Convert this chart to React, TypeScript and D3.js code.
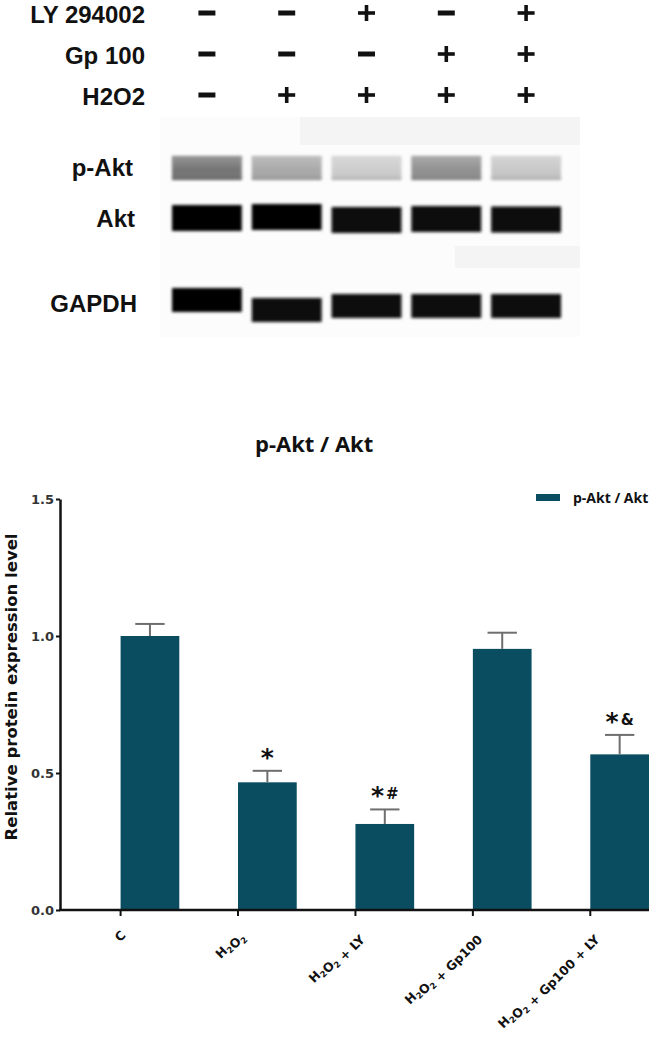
import React, { useEffect, useRef } from "react";
import * as d3 from "d3";

// treatment matrix above the blot
const treatmentNames = ["LY 294002", "Gp 100", "H2O2"];
const lyAdded = [false, false, true, false, true];
const gpAdded = [false, false, false, true, true];
const h2o2Added = [false, true, true, true, true];

// blot rows
const blotNames = ["p-Akt", "Akt", "GAPDH"];
const pAktGray = [0.45, 0.66, 0.8, 0.56, 0.78];
const aktGray = [0.02, 0.02, 0.03, 0.03, 0.03];
const gapdhGray = [0.02, 0.03, 0.03, 0.03, 0.03];

// bar chart
const groups = ["C", "H2O2", "H2O2 + LY", "H2O2 + Gp100", "H2O2 + Gp100 + LY"];
const means = [1.0, 0.466, 0.314, 0.953, 0.568];
const sems = [0.044, 0.042, 0.053, 0.059, 0.071];
const signif = ["", "*", "*#", "", "*&"];
const yTicks = [0, 0.5, 1.0, 1.5];

const BAR = "#0a4d60";
const SANS = "'DejaVu Sans', sans-serif";
const ARIAL = "'Liberation Sans', Arial, sans-serif";
const OPEN = "'Open Sans', sans-serif";

export default function App() {
  const ref = useRef<SVGSVGElement>(null);

  useEffect(() => {
    const svg = d3.select(ref.current);
    svg.selectAll("*").remove();

    const defs = svg.append("defs");
    defs.append("filter").attr("id", "blur")
      .attr("x", "-10%").attr("y", "-40%").attr("width", "120%").attr("height", "180%")
      .append("feGaussianBlur").attr("stdDeviation", 1.6);
    const grad = defs.append("linearGradient").attr("id", "pakt").attr("x1", 0).attr("x2", 0).attr("y1", 0).attr("y2", 1);
    grad.append("stop").attr("offset", "0%").attr("stop-color", "#fff").attr("stop-opacity", 0.25);
    grad.append("stop").attr("offset", "60%").attr("stop-color", "#fff").attr("stop-opacity", 0);
    grad.append("stop").attr("offset", "100%").attr("stop-color", "#000").attr("stop-opacity", 0.15);

    // ---------- treatment table ----------
    const lane = d3.scaleBand<number>().domain(d3.range(5)).range([171, 562]).paddingInner(0.1);
    const laneMid = (i: number) => (lane(i) as number) + lane.bandwidth() / 2;
    const rowY = d3.scalePoint<string>().domain(treatmentNames).range([13, 95]);

    const top = svg.append("g");
    top.selectAll("text.tr").data(treatmentNames).enter().append("text")
      .attr("x", 145).attr("y", d => (rowY(d) as number) + 10)
      .attr("text-anchor", "end").attr("font-family", ARIAL).attr("font-weight", "bold")
      .attr("font-size", 24).attr("fill", "#111").text(d => d);

    [lyAdded, gpAdded, h2o2Added].forEach((row, r) => {
      const cy = rowY(treatmentNames[r]) as number;
      row.forEach((on, i) => {
        const cx = laneMid(i);
        top.append("line").attr("x1", cx - 8.5).attr("x2", cx + 8.5).attr("y1", cy).attr("y2", cy)
          .attr("stroke", "#111").attr("stroke-width", on ? 3.6 : 5);
        if (on) top.append("line").attr("x1", cx).attr("x2", cx).attr("y1", cy - 8).attr("y2", cy + 8)
          .attr("stroke", "#111").attr("stroke-width", 3.6);
      });
    });

    // ---------- blot ----------
    const blot = svg.append("g");
    blot.append("rect").attr("x", 160).attr("y", 117).attr("width", 420).attr("height", 220).attr("fill", "#fcfcfc");
    blot.append("rect").attr("x", 300).attr("y", 117).attr("width", 280).attr("height", 28).attr("fill", "#f4f4f4");
    blot.append("rect").attr("x", 455).attr("y", 246).attr("width", 125).attr("height", 22).attr("fill", "#f4f4f4");

    const blotY = [168, 219, 304];
    const blotH = [24, 26, 24];
    const shift = [[0, 0, 0, 0, 0], [-1, -2, 1, 0, 0.5], [-4, 6, 2, 2, 2]];
    const grays = [pAktGray, aktGray, gapdhGray];

    blotNames.forEach((name, r) => {
      blot.append("text").attr("x", [133, 135, 137][r]).attr("y", blotY[r] + 8)
        .attr("text-anchor", "end").attr("font-family", ARIAL).attr("font-weight", "bold")
        .attr("font-size", 24).attr("fill", "#111").text(name);
      grays[r].forEach((g, i) => {
        const v = Math.round(g * 255);
        const bx = (lane(i) as number) + 1;
        const by = blotY[r] + shift[r][i] - blotH[r] / 2;
        blot.append("rect")
          .attr("x", bx).attr("width", lane.bandwidth() - 2)
          .attr("y", by).attr("height", blotH[r])
          .attr("fill", `rgb(${v},${v},${v})`).attr("filter", "url(#blur)");
        if (r === 0) blot.append("rect")
          .attr("x", bx).attr("width", lane.bandwidth() - 2)
          .attr("y", by).attr("height", blotH[r])
          .attr("fill", "url(#pakt)").attr("filter", "url(#blur)");
      });
    });

    // ---------- bar chart ----------
    const x = d3.scaleBand<string>().domain(groups).range([60, 649])
      .paddingInner(0.5).paddingOuter(0.258).align(1);
    const y = d3.scaleLinear().domain([0, 1.5]).range([910, 499]);

    const chart = svg.append("g");

    chart.append("text").attr("x", 255).attr("y", 452)
      .attr("font-family", OPEN).attr("font-weight", "bold").attr("font-size", 22)
      .attr("fill", "#111").text("p-Akt / Akt");

    // legend
    chart.append("rect").attr("x", 536).attr("y", 494).attr("width", 24).attr("height", 7).attr("fill", BAR);
    chart.append("text").attr("x", 573).attr("y", 503)
      .attr("font-family", OPEN).attr("font-weight", "bold").attr("font-size", 14)
      .attr("fill", "#111").text("p-Akt / Akt");

    // bars
    chart.selectAll("rect.bar").data(groups).enter().append("rect")
      .attr("x", d => x(d) as number).attr("width", x.bandwidth())
      .attr("y", (d, i) => y(means[i])).attr("height", (d, i) => y(0) - y(means[i]))
      .attr("fill", BAR);

    // error bars (upper only)
    const err = chart.append("g").attr("stroke", "#6e6e6e").attr("stroke-width", 2);
    groups.forEach((g, i) => {
      const cx = (x(g) as number) + x.bandwidth() / 2;
      err.append("line").attr("x1", cx).attr("x2", cx).attr("y1", y(means[i])).attr("y2", y(means[i] + sems[i]));
      err.append("line").attr("x1", cx - x.bandwidth() / 4).attr("x2", cx + x.bandwidth() / 4)
        .attr("y1", y(means[i] + sems[i])).attr("y2", y(means[i] + sems[i]));
    });

    // significance marks
    groups.forEach((g, i) => {
      if (!signif[i]) return;
      const cx = (x(g) as number) + x.bandwidth() / 2;
      const t = chart.append("text").attr("x", cx).attr("y", y(means[i] + sems[i]) - 11)
        .attr("text-anchor", "middle").attr("font-family", SANS).attr("font-weight", "bold")
        .attr("font-size", 15).attr("fill", "#111");
      signif[i].split("").forEach(ch => {
        if (ch === "*") t.append("tspan").attr("font-size", 25).attr("dy", 6).text("*");
        else t.append("tspan").attr("dx", 2).attr("dy", -5).text(ch);
      });
    });

    // y axis
    const yAxis = chart.append("g").attr("transform", "translate(60,0)")
      .call(d3.axisLeft(y).tickValues(yTicks).tickFormat(d3.format(".1f")).tickSize(4).tickSizeOuter(0).tickPadding(2));
    yAxis.select(".domain").attr("stroke", "#111").attr("stroke-width", 2.5);
    yAxis.selectAll(".tick line").attr("stroke", "#111").attr("stroke-width", 2);
    yAxis.selectAll(".tick text").attr("font-family", SANS).attr("font-weight", "bold")
      .attr("font-size", 13).attr("fill", "#333");

    chart.append("text").attr("transform", "translate(17,687) rotate(-90)")
      .attr("text-anchor", "middle").attr("font-family", SANS).attr("font-weight", "bold")
      .attr("font-size", 16.5).attr("fill", "#111").text("Relative protein expression level");

    // x axis
    chart.append("line").attr("x1", 59).attr("x2", 649).attr("y1", y(0)).attr("y2", y(0))
      .attr("stroke", "#111").attr("stroke-width", 2.5);
    groups.forEach(g => {
      const tx = x(g) as number;
      chart.append("line").attr("x1", tx).attr("x2", tx).attr("y1", y(0)).attr("y2", y(0) + 6)
        .attr("stroke", "#111").attr("stroke-width", 2);
      const lbl = chart.append("text").attr("transform", `translate(${tx + 6},${y(0) + 26}) rotate(-45)`)
        .attr("text-anchor", "end").attr("font-family", SANS).attr("font-weight", "bold")
        .attr("font-size", 12.5).attr("fill", "#111");
      // subscript the 2s in H2O2
      g.split(/(2)/).forEach((part, k, arr) => {
        if (part === "2" && k > 0 && /[HO]$/.test(arr[k - 1])) {
          lbl.append("tspan").attr("font-size", 8.5).attr("dy", 3).text("2");
          lbl.append("tspan").attr("dy", -3).text("");
        } else if (part) {
          lbl.append("tspan").text(part);
        }
      });
    });
  }, []);

  return (
    <svg ref={ref} width={657} height={1041}
      style={{ position: "absolute", left: 0, top: 0, background: "#fff" }} />
  );
}
